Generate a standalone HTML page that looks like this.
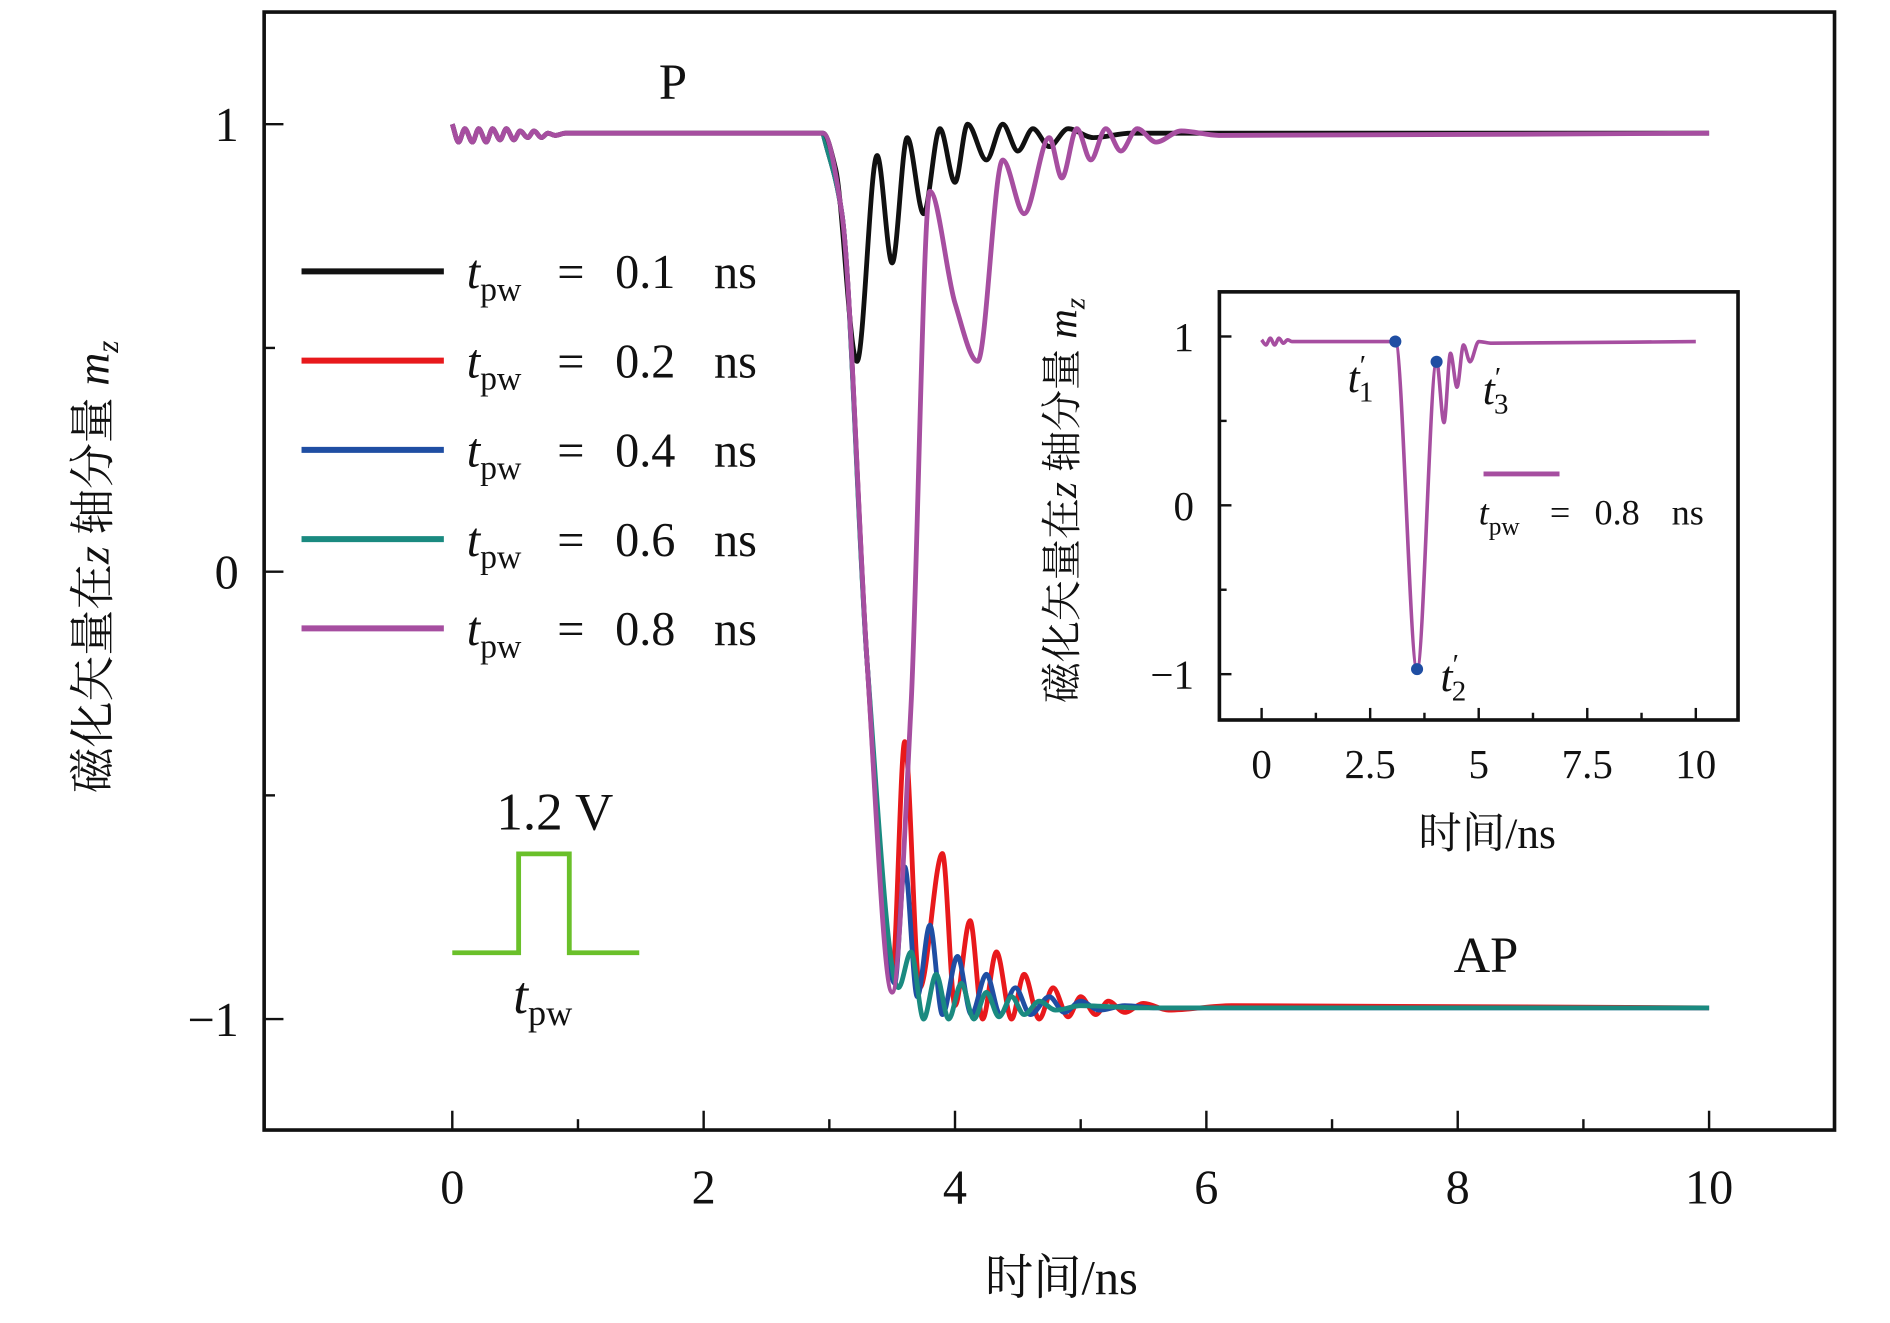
<!DOCTYPE html>
<html><head><meta charset="utf-8">
<style>
html,body{margin:0;padding:0;background:#fff;}
svg{display:block;}
text{font-family:"Liberation Serif","Noto Serif CJK SC",serif;fill:#111;}
</style></head>
<body>
<svg id="chart" width="1890" height="1323" viewBox="0 0 1567 1097" preserveAspectRatio="none" xmlns="http://www.w3.org/2000/svg">
<g id="main"></g>
<g id="inset"></g>
</svg>
<script>
// ---- main chart data (time in ns, m_z) ----
const xTicks = [0,2,4,6,8,10];
const yTicks = [1,0,-1];
const yTickLabels = ["1","0","\u22121"];
const seriesNames = ["0.1","0.2","0.4","0.6","0.8"];
const t01 = [0,0.05,0.1,0.16,0.21,0.27,0.32,0.38,0.43,0.49,0.54,0.6,0.65,0.71,0.76,0.82,0.9,2.95,3.05,3.22,3.38,3.5,3.62,3.75,3.88,4.0,4.1,4.25,4.38,4.5,4.62,4.75,4.9,5.1,5.4,10];
const m01 = [1,0.96,0.99,0.96,0.99,0.96,0.99,0.965,0.99,0.965,0.985,0.97,0.985,0.97,0.98,0.975,0.98,0.98,0.9,0.47,0.93,0.69,0.97,0.8,0.99,0.87,1.0,0.92,1.0,0.94,0.99,0.95,0.99,0.97,0.98,0.98];
const t02 = [2.95,3.1,3.3,3.5,3.6,3.72,3.9,4.0,4.12,4.22,4.33,4.45,4.55,4.67,4.78,4.9,5.0,5.12,5.22,5.35,5.5,5.7,6.2,10];
const m02 = [0.98,0.8,-0.2,-0.9,-0.38,-0.93,-0.63,-0.97,-0.78,-1.0,-0.85,-1.0,-0.9,-1.0,-0.93,-0.995,-0.95,-0.99,-0.96,-0.985,-0.965,-0.98,-0.97,-0.975];
const t04 = [2.95,3.1,3.3,3.52,3.6,3.7,3.8,3.9,4.02,4.13,4.25,4.36,4.48,4.6,4.75,4.87,5.0,5.15,5.35,5.6,10];
const m04 = [0.98,0.8,-0.2,-0.92,-0.66,-0.95,-0.79,-0.99,-0.86,-0.99,-0.9,-0.99,-0.93,-0.99,-0.95,-0.985,-0.96,-0.98,-0.97,-0.975,-0.975];
const t06 = [2.95,3.1,3.3,3.55,3.65,3.75,3.85,3.95,4.05,4.15,4.25,4.35,4.45,4.55,4.67,4.8,5.0,5.5,10];
const m06 = [0.98,0.8,-0.2,-0.93,-0.85,-1.0,-0.9,-1.0,-0.92,-1.0,-0.94,-0.995,-0.95,-0.99,-0.96,-0.98,-0.97,-0.975,-0.975];
const t08 = [0,0.05,0.1,0.16,0.21,0.27,0.32,0.38,0.43,0.49,0.54,0.6,0.65,0.71,0.76,0.82,0.9,2.95,3.1,3.3,3.5,3.65,3.8,4.0,4.18,4.38,4.55,4.75,4.85,4.97,5.08,5.2,5.32,5.45,5.6,5.8,6.1,10];
const m08 = [1,0.96,0.99,0.96,0.99,0.96,0.99,0.965,0.99,0.965,0.985,0.97,0.985,0.97,0.98,0.975,0.98,0.98,0.8,-0.2,-0.94,-0.3,0.85,0.6,0.47,0.92,0.8,0.97,0.88,0.99,0.92,0.99,0.94,0.99,0.96,0.985,0.975,0.98];
// inset data
const insetXTicks = [0,2.5,5,7.5,10];
const insetXLabels = ["0","2.5","5","7.5","10"];
const insetYTicks = [1,0,-1];
const insetT = [0,0.1,0.2,0.3,0.4,0.5,0.6,0.7,3.08,3.58,4.03,4.2,4.35,4.5,4.65,4.8,5.0,5.3,10];
const insetM = [0.98,0.95,0.99,0.95,0.99,0.96,0.98,0.97,0.97,-0.97,0.85,0.49,0.9,0.7,0.95,0.85,0.97,0.96,0.97];
const markT = [3.08,3.58,4.03];
const markM = [0.97,-0.97,0.85];

const NS="http://www.w3.org/2000/svg";
function el(tag,attrs,parent,txt){const e=document.createElementNS(NS,tag);for(const k in attrs)e.setAttribute(k,attrs[k]);if(txt!==undefined)e.textContent=txt;parent.appendChild(e);return e;}
function smooth(pts){
  const n=pts.length;const dx=[],s=[];
  for(let i=0;i<n-1;i++){dx.push(pts[i+1][0]-pts[i][0]);s.push((pts[i+1][1]-pts[i][1])/dx[i]);}
  const m=new Array(n);m[0]=s[0];m[n-1]=s[n-2];
  for(let i=1;i<n-1;i++){if(s[i-1]*s[i]<=0)m[i]=0;else{const w1=2*dx[i]+dx[i-1],w2=dx[i]+2*dx[i-1];m[i]=(w1+w2)/(w1/s[i-1]+w2/s[i]);}}
  let d="M"+pts[0][0]+","+pts[0][1];
  for(let i=0;i<n-1;i++){const h=dx[i]/3;d+=" C"+(pts[i][0]+h)+","+(pts[i][1]+m[i]*h)+" "+(pts[i+1][0]-h)+","+(pts[i+1][1]-m[i+1]*h)+" "+pts[i+1][0]+","+pts[i+1][1];}
  return d;}

const main=document.getElementById('main');
const X=t=>375+t*104.2, Y=m=>474-m*371;
const fr=el('rect',{x:219,y:10,width:1302,height:927,fill:'none',stroke:'#111','stroke-width':3},main);


for(let t=0;t<=10;t++){const big=t%2===0;const tk=el('line',{x1:X(t),x2:X(t),y1:937,y2:937-(big?16:9),stroke:'#111','stroke-width':2},main);

}
xTicks.forEach(t=>{const tx=el('text',{x:X(t),y:998,'font-size':40,'text-anchor':'middle'},main,String(t));

});
for(let m=-1;m<=1;m+=0.5){const big=Math.abs(m%1)<1e-9;const tk=el('line',{x1:219,x2:219+(big?16:9),y1:Y(m),y2:Y(m),stroke:'#111','stroke-width':2},main);

}
yTicks.forEach((m,i)=>{const tx=el('text',{x:198,y:Y(m)+14,'font-size':40,'text-anchor':'end'},main,yTickLabels[i]);

});
const xt=el('text',{x:880,y:1073,'font-size':40,'text-anchor':'middle'},main,'时间/ns');


const yt=el('text',{x:0,y:0,'font-size':38,'text-anchor':'middle',transform:'translate(90,470) rotate(-90)'},main);


yt.innerHTML='磁化矢量在<tspan font-style="italic">z</tspan> 轴分量 <tspan font-style="italic">m</tspan><tspan font-style="italic" font-size="26" dy="8">z</tspan>';

const colors=["#111111","#e8191c","#1f4ea3","#1a8a80","#a64ea0"];
const ts=[t01,t02,t04,t06,t08], ms=[m01,m02,m04,m06,m08];
const order=[1,2,3,0,4];
order.forEach(i=>{const pts=ts[i].map((t,j)=>[X(t),Y(ms[i][j])]);const p=el('path',{d:smooth(pts),fill:'none',stroke:colors[i],'stroke-width':4,'stroke-linejoin':'round'},main);

});
seriesNames.forEach((n,i)=>{const y=225+i*74;
const ln=el('line',{x1:250,x2:368,y1:y,y2:y,stroke:colors[i],'stroke-width':5},main);


const tx=el('text',{x:387,y:y+14,'font-size':40},main);


tx.innerHTML='<tspan font-style="italic">t</tspan><tspan font-size="28" dy="10">pw</tspan><tspan x="462" dy="-10">=</tspan><tspan x="510">'+n+'</tspan><tspan x="592">ns</tspan>';});
const pl=el('text',{x:558,y:82,'font-size':42,'text-anchor':'middle'},main,'P');


const apl=el('text',{x:1232,y:806,'font-size':42,'text-anchor':'middle'},main,'AP');


const pulse=el('path',{d:'M375,790 H430 V708 H472 V790 H530',fill:'none',stroke:'#6ac02a','stroke-width':4},main);


const pv=el('text',{x:460,y:688,'font-size':44,'text-anchor':'middle'},main,'1.2 V');


const pt=el('text',{x:450,y:840,'font-size':44,'text-anchor':'middle'},main);


pt.innerHTML='<tspan font-style="italic">t</tspan><tspan font-size="30" dy="10">pw</tspan>';

const ins=document.getElementById('inset');
const IX=t=>1046+t*36, IY=m=>419-m*140;
const ifr=el('rect',{x:1011,y:242,width:430,height:355,fill:'#fff',stroke:'#111','stroke-width':3},ins);


for(let k=0;k<=8;k++){const t=k*1.25;const big=k%2===0;const tk=el('line',{x1:IX(t),x2:IX(t),y1:597,y2:597-(big?10:6),stroke:'#111','stroke-width':2},ins);

}
insetXTicks.forEach((t,i)=>{const tx=el('text',{x:IX(t),y:645,'font-size':34,'text-anchor':'middle'},ins,insetXLabels[i]);

});
for(let m=-1;m<=1;m+=0.5){const big=Math.abs(m%1)<1e-9;const tk=el('line',{x1:1011,x2:1011+(big?10:6),y1:IY(m),y2:IY(m),stroke:'#111','stroke-width':2},ins);

}
insetYTicks.forEach((m,i)=>{const tx=el('text',{x:990,y:IY(m)+12,'font-size':34,'text-anchor':'end'},ins,yTickLabels[i]);

});
const ixt=el('text',{x:1233,y:703,'font-size':36,'text-anchor':'middle'},ins,'时间/ns');


const iyt=el('text',{x:0,y:0,'font-size':34,'text-anchor':'middle',transform:'translate(892,415) rotate(-90)'},ins);


iyt.innerHTML='磁化矢量在<tspan font-style="italic">z</tspan> 轴分量 <tspan font-style="italic">m</tspan><tspan font-style="italic" font-size="24" dy="7">z</tspan>';
const ip=el('path',{d:smooth(insetT.map((t,j)=>[IX(t),IY(insetM[j])])),fill:'none',stroke:'#a64ea0','stroke-width':3},ins);


markT.forEach((t,i)=>{const c=el('circle',{cx:IX(t),cy:IY(markM[i]),r:5,fill:'#1f4ea3'},ins);

});
const lbls=[[1128,325,'1'],[1205,573,'2'],[1240,335,'3']];
lbls.forEach(l=>{const tx=el('text',{x:l[0],y:l[1],'font-size':36,'text-anchor':'middle'},ins);


tx.innerHTML='<tspan font-style="italic">t</tspan><tspan font-size="24" dy="-14">\u2032</tspan><tspan font-size="24" dx="-6" dy="22">'+l[2]+'</tspan>';});
const il=el('line',{x1:1230,x2:1293,y1:393,y2:393,stroke:'#a64ea0','stroke-width':4},ins);


const ilt=el('text',{x:1226,y:435,'font-size':30},ins);


ilt.innerHTML='<tspan font-style="italic">t</tspan><tspan font-size="21" dy="8">pw</tspan><tspan x="1285" dy="-8">=</tspan><tspan x="1322">0.8</tspan><tspan x="1386">ns</tspan>';
</script>
</body></html>
